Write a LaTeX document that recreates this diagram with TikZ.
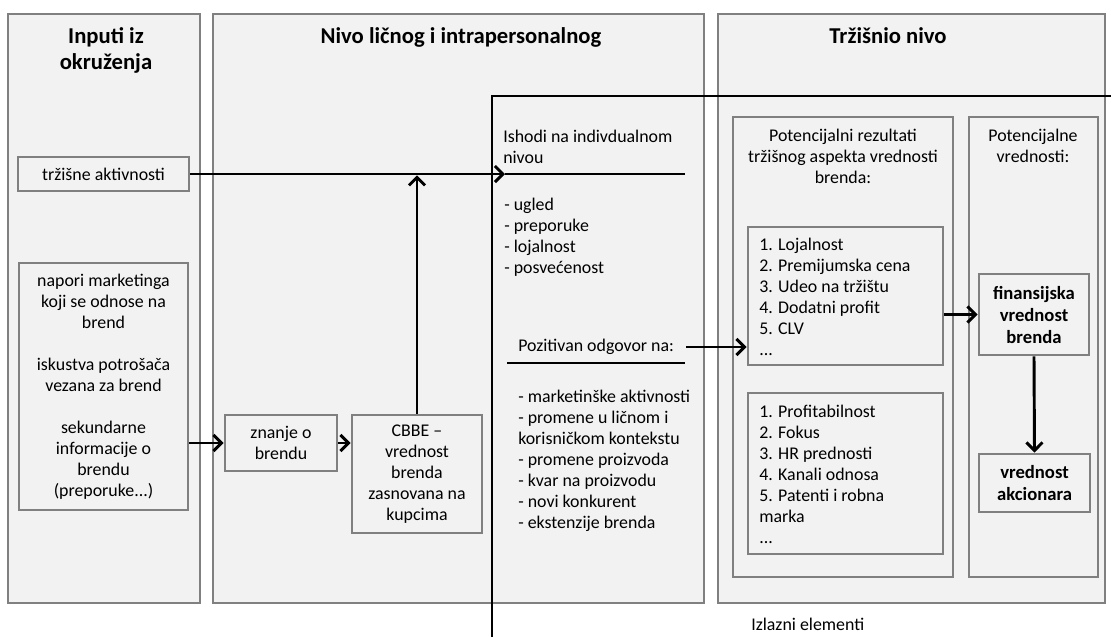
\documentclass[tikz,border=0pt]{standalone}
\usepackage{fontspec}
\setmainfont{Carlito}
\usetikzlibrary{arrows.meta,fit}

\definecolor{panelfill}{HTML}{F2F2F2}
\definecolor{panelline}{HTML}{808080}

\newcommand{\diagbody}{\fontsize{13.4}{15.75}\selectfont}
\newcommand{\diagtitle}{\fontsize{17}{19.5}\selectfont\bfseries}
\newcommand{\diagbold}{\fontsize{14}{16.5}\selectfont\bfseries}

\begin{document}
\begin{tikzpicture}[x=0.75pt,y=-0.75pt,
  panel/.style={draw=panelline, fill=panelfill, line width=2.2pt, inner sep=0pt},
  size/.style 2 args={minimum width=#1*0.75pt, minimum height=#2*0.75pt},
  box/.style={panel, align=center, font=\diagbody},
  boldbox/.style={panel, align=center, font=\diagbold},
  title/.style={align=center, font=\diagtitle, inner sep=0pt},
  txt/.style={align=left, font=\diagbody, inner sep=0pt, anchor=west},
  ctxt/.style={align=center, font=\diagbody, inner sep=0pt},
  arr/.style={line width=2.2pt, -{Straight Barb[length=6pt,width=12pt]}},
  rule/.style={line width=2.2pt}
]
\fill[white] (0,0) rectangle (1111,637);
\useasboundingbox (0,0) rectangle (1111,637);

% three level columns
\node[panel, fit={(8,14) (200,603)}] (colIn) {};
\node[panel, fit={(213,14) (704,603)}] (colPers) {};
\node[panel, fit={(718,14) (1105,603)}] (colMkt) {};

\node[title] (tIn) at (106,50) {Inputi iz\\okruženja};
\node[title] (tPers) at (461,37) {Nivo ličnog i intrapersonalnog};
\node[title] (tMkt) at (888,36) {Tržišnio nivo};

% inputs
\node[box, size={171}{34}] (trz) at (103.5,174) {tržišne aktivnosti};
\node[box, size={169}{247}] (napori) at (103.5,386.5) {napori marketinga\\koji se odnose na\\brend\\[15.75pt]iskustva potrošača\\vezana za brend\\[15.75pt]sekundarne\\informacije o\\brendu\\(preporuke...)};

% personal level
\node[box, size={112}{56}] (znanje) at (281,443) {znanje o\\brendu};
\node[box, size={130}{118}] (cbbe) at (417,474) {CBBE --\\vrednost\\brenda\\zasnovana na\\kupcima};

\node[txt] (ishodi) at (503,146.5) {Ishodi na indivdualnom\\nivou};
\node[txt] (ishodiList) at (504,237) {- ugled\\- preporuke\\- lojalnost\\- posvećenost};
\node[txt] (poz) at (518,347) {Pozitivan odgovor na:};
\node[txt] (pozList) at (518,460.5) {- marketinške aktivnosti\\- promene u ličnom i\\korisničkom kontekstu\\- promene proizvoda\\- kvar na proizvodu\\- novi konkurent\\- ekstenzije brenda};

% market level
\node[panel, fit={(733,117) (953,577)}] (potRez) {};
\node[panel, fit={(969,117) (1098,577)}] (potVr) {};
\node[ctxt] (tRez) at (843,156) {Potencijalni rezultati\\tržišnog aspekta vrednosti\\brenda:};
\node[ctxt] (tVr) at (1033,146) {Potencijalne\\vrednosti:};

\node[panel, fit={(748,227) (943,365)}] (list1) {};
\node[txt] (list1txt) at (759,296.5) {1. Lojalnost\\2. Premijumska cena\\3. Udeo na tržištu\\4. Dodatni profit\\5. CLV\\...};
\node[panel, fit={(748,393) (943,554)}] (list2) {};
\node[txt] (list2txt) at (759,474.5) {1. Profitabilnost\\2. Fokus\\3. HR prednosti\\4. Kanali odnosa\\5. Patenti i robna\\marka\\...};

\node[boldbox, size={110}{81}] (fin) at (1034,314.5) {finansijska\\vrednost\\brenda};
\node[boldbox, size={111}{58}] (akc) at (1034.5,483) {vrednost\\akcionara};

\node[txt] (izlaz) at (751,624) {Izlazni elementi};

% boundary line between individual and market outputs
\coordinate (bndBot) at (492,637);
\coordinate (bndTop) at (492,96);
\coordinate (bndEnd) at (1111,96);
\draw[rule] (bndBot) -- (bndTop) -- (bndEnd);

% underlines
\coordinate (ishodiL) at (505,174);
\coordinate (ishodiR) at (685,174);
\draw[rule] (ishodiL) -- (ishodiR);
\coordinate (pozL) at (507,363);
\coordinate (pozR) at (685,363);
\draw[rule] (pozL) -- (pozR);

% connectors
\draw[arr] (trz.east) -- (ishodiL);
\draw[arr] (napori.east |- znanje.west) -- (znanje.west);
\draw[arr] (znanje.east) -- (cbbe.west |- znanje.east);
\draw[arr] (cbbe.north) -- ([yshift=-1pt]cbbe.north |- ishodiL);
\coordinate (pozA) at (686,347);
\draw[arr] (pozA) -- (list1.west |- pozA);
\draw[arr] (list1.east |- fin.west) -- (fin.west);
\draw[arr] (fin.south) -- (akc.north);
\end{tikzpicture}
\end{document}
